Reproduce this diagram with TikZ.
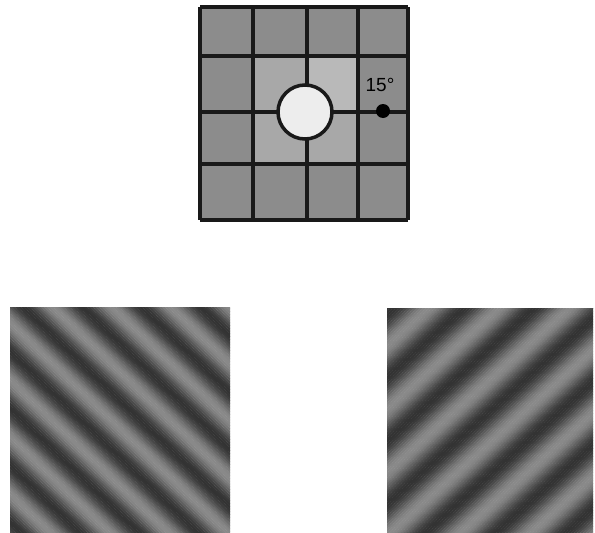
\documentclass[tikz,border=0pt]{standalone}
\usepackage{fontspec}
\setmainfont{Liberation Sans}
\usepackage{tikz}
\definecolor{cellgray}{HTML}{8C8C8C}
\definecolor{innergray}{HTML}{A8A8A8}
\definecolor{holegray}{HTML}{EDEDED}

\begin{document}
\begin{tikzpicture}[
  x=1pt,y=-1pt,
  cell/.style={fill=cellgray},
  inner cell/.style={fill=innergray},
  grid line/.style={line width=3.5pt,black!90},
  hole/.style={circle,draw=black!90,line width=3.5pt,fill=holegray,minimum size=54pt,inner sep=0pt},
  marker/.style={circle,fill=black,minimum size=14pt,inner sep=0pt},
  angle label/.style={font=\fontsize{19}{22}\selectfont,inner sep=0pt}
]
\useasboundingbox (0,0) rectangle (595,533);

% receptive field grid
\fill[cell] (200,7) rectangle (408,220);
\fill[inner cell] (253,56) rectangle (357,164);
\fill[innergray!80!white] (307,56) rectangle (357,112);
\foreach \gx in {200,253,307,358,408}
  \draw[grid line] (\gx,7) -- (\gx,220);
\foreach \gy in {7,56,112,164,220}
  \draw[grid line] (200,\gy) -- (408,\gy);
\node[hole] (c) at (305,112) {};
\node[marker] (m) at (383,111) {};
\node[angle label] (a) at (380,85) {15°};

% left grating, period 41
\begin{scope}
  \clip (10,307) rectangle (230,532);
  \begin{scope}[shift={(120,419.5)},rotate=46]
    \foreach \u in {-170,-168,...,170} {
      \pgfmathsetmacro\g{63+17*cos((\u-12.7)*8.7805)}
      \fill[black!\g] (\u,-170) rectangle (\u+2.3,170);
    }
  \end{scope}
\end{scope}

% right grating, period 47
\begin{scope}
  \clip (387,308) rectangle (593,532);
  \begin{scope}[shift={(490,420)},rotate=-48]
    \foreach \u in {-170,-168,...,170} {
      \pgfmathsetmacro\g{63+17*cos((\u+7.4)*7.6596)}
      \fill[black!\g] (\u,-170) rectangle (\u+2.3,170);
    }
  \end{scope}
\end{scope}
\end{tikzpicture}
\end{document}
